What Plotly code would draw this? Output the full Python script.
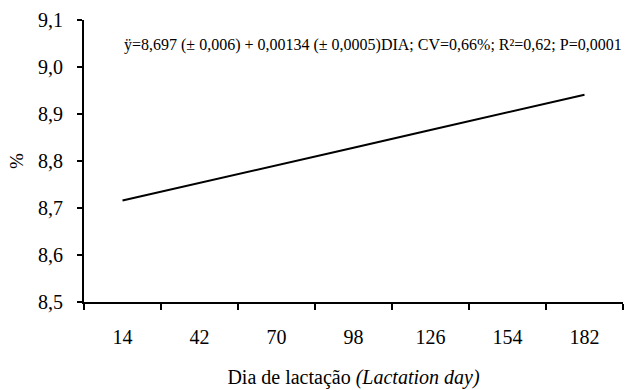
import plotly.graph_objects as go

dias = ["14", "42", "70", "98", "126", "154", "182"]
gordura = [8.716, 8.753, 8.791, 8.828, 8.866, 8.903, 8.941]
y_ticks = [8.5, 8.6, 8.7, 8.8, 8.9, 9.0, 9.1]
equacao = "ÿ=8,697 (± 0,006) + 0,00134 (± 0,0005)DIA; CV=0,66%; R²=0,62; P=0,0001"

FONT = "Liberation Serif"

fig = go.Figure()
fig.add_trace(go.Scatter(x=dias, y=gordura, mode="lines",
                         line=dict(color="black", width=2), showlegend=False))

fig.add_annotation(text=equacao, xref="paper", yref="y", x=0.071, y=9.047,
                   xanchor="left", yanchor="middle", showarrow=False,
                   font=dict(family=FONT, size=16, color="black"))

fig.update_layout(
    width=625, height=390,
    margin=dict(l=84, r=2, t=20, b=88),
    paper_bgcolor="white", plot_bgcolor="white",
    separators=", ",
    font=dict(family=FONT, color="black"),
)
fig.update_xaxes(
    type="category", tickson="boundaries", ticks="outside", ticklen=6, tickwidth=2,
    tickcolor="black", showline=True, linecolor="black", linewidth=2,
    showgrid=False, zeroline=False, tickfont=dict(family=FONT, size=20), ticklabelstandoff=16,
    title=dict(text="Dia de lactação <i>(Lactation day)</i>", font=dict(family=FONT, size=20), standoff=23),
    range=[-0.5, 6.5],
)
fig.update_yaxes(
    range=[8.5, 9.1], tickvals=y_ticks, tickformat=".1f", ticks="outside", ticklen=5,
    tickwidth=2, tickcolor="black", showline=True, linecolor="black", linewidth=2,
    showgrid=False, zeroline=False, tickfont=dict(family=FONT, size=20), ticklabelstandoff=10,
    title=dict(text="%", font=dict(family=FONT, size=19), standoff=9),
)

fig.write_html("out.html")
